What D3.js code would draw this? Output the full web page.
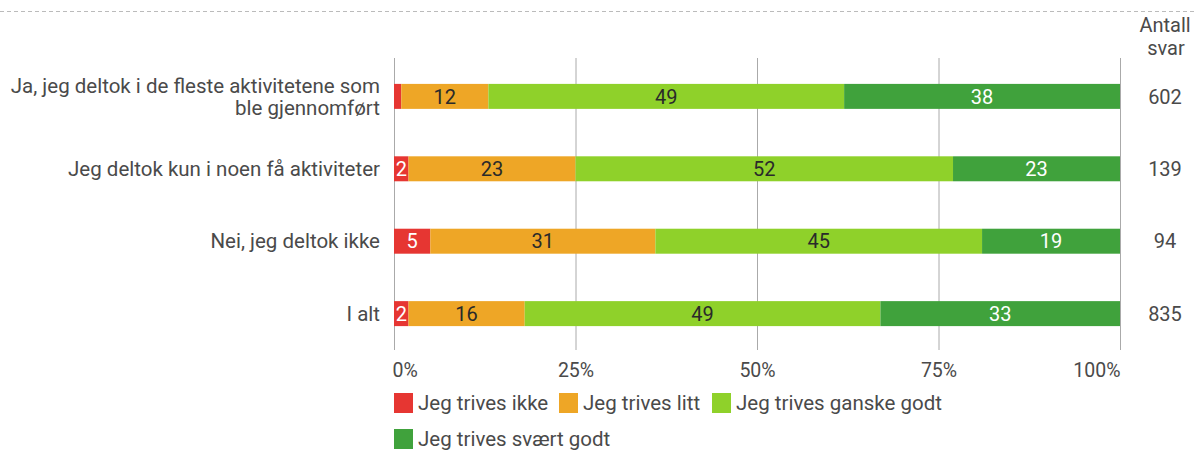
<!DOCTYPE html>
<html><head><meta charset="utf-8">
<script src="https://cdn.jsdelivr.net/npm/d3@7/dist/d3.min.js"></script>
<style>body{margin:0;background:#fff;font-family:Roboto,"Noto Sans",sans-serif;}</style>
</head><body><svg id="c" width="1195" height="450"></svg>
<script>
const categories = [
  ["Ja, jeg deltok i de fleste aktivitetene som","ble gjennomført"],
  ["Jeg deltok kun i noen få aktiviteter"],
  ["Nei, jeg deltok ikke"],
  ["I alt"]
];
const seriesNames = ["Jeg trives ikke","Jeg trives litt","Jeg trives ganske godt","Jeg trives svært godt"];
const ikke = [1, 2, 5, 2];
const litt = [12, 23, 31, 16];
const ganske = [49, 52, 45, 49];
const svaert = [38, 23, 19, 33];
const counts = [602, 139, 94, 835];
const tickValues = [0, 25, 50, 75, 100];
const colors = ["#e63632","#eea626","#8fd12a","#40a23c"];
const textColors = ["#fff","#2a2a2a","#2a2a2a","#fff"];

const svg = d3.select("#c");
const x = d3.scaleLinear().domain([0,100]).range([394,1120]);
const y = d3.scaleBand().domain(d3.range(categories.length)).range([60,350]).paddingInner(0.655).paddingOuter(0.33);

svg.append("line").attr("x1",0).attr("x2",1195).attr("y1",11.5).attr("y2",11.5)
  .attr("stroke","#bbb").attr("stroke-dasharray","4,3");

// grid
svg.append("g").selectAll("line").data(tickValues).join("line")
  .attr("x1",d=>x(d)+0.5).attr("x2",d=>x(d)+0.5).attr("y1",58).attr("y2",350)
  .attr("stroke","#aaa").attr("stroke-width",1);

// axis labels
const ax = svg.append("g").attr("transform","translate(0,350)")
  .call(d3.axisBottom(x).tickValues(tickValues).tickFormat(d=>d+"%").tickSize(0).tickPadding(13));
ax.select(".domain").remove();
ax.selectAll("text").attr("font-size",19.5).attr("fill","#4a4a4a").attr("font-family","Roboto")
  .attr("text-anchor",(d,i)=>i===0?"start":(i===tickValues.length-1?"end":"middle"))
  .attr("dx",(d,i)=>i===0?-2:(i===tickValues.length-1?0:0));

const series = [ikke, litt, ganske, svaert];
const stacked = categories.map((c,i)=>{
  let acc=0;
  return series.map((s,k)=>{const o={k,i,v:s[i],x0:acc,x1:acc+s[i]}; acc+=s[i]; return o;});
});
const bh = y.bandwidth();
const rows = svg.append("g").selectAll("g").data(stacked).join("g");
rows.selectAll("rect").data(d=>d).join("rect")
  .attr("x",d=>x(d.x0)).attr("width",d=>x(d.x1)-x(d.x0))
  .attr("y",d=>y(d.i)).attr("height",bh).attr("fill",d=>colors[d.k]);
rows.selectAll("text").data(d=>d.filter(e=>e.v>=2)).join("text")
  .attr("x",d=>(x(d.x0)+x(d.x1))/2).attr("y",d=>y(d.i)+bh/2)
  .attr("dy","0.36em").attr("text-anchor","middle").attr("font-size",20)
  .attr("fill",d=>textColors[d.k]).text(d=>d.v);

// category labels
const cl = svg.append("g").selectAll("text").data(categories).join("text")
  .attr("text-anchor","end").attr("font-size",20.5).attr("fill","#4a4a4a");
cl.each(function(lines,i){
  const t=d3.select(this);
  const cy=y(i)+bh/2;
  const start = cy - (lines.length-1)*22/2;
  lines.forEach((l,j)=>t.append("tspan").attr("x",380).attr("y",start+j*22).attr("dy","0.35em").text(l));
});

// counts
svg.append("g").selectAll("text").data(counts).join("text")
  .attr("x",1165).attr("y",(d,i)=>y(i)+bh/2).attr("dy","0.36em").attr("text-anchor","middle")
  .attr("font-size",20).attr("fill","#4a4a4a").text(d=>d);
svg.append("text").attr("text-anchor","middle").attr("font-size",20).attr("fill","#4a4a4a")
  .selectAll("tspan").data(["Antall","svar"]).join("tspan")
  .attr("x",(d,i)=>i===0?1165:1166).attr("y",(d,i)=>32+i*23).text(d=>d);

// legend
const legendPos = [[394,403],[559,403],[712,403],[394,439]];
const lg = svg.append("g").selectAll("g").data(seriesNames).join("g")
  .attr("transform",(d,i)=>`translate(${legendPos[i][0]},${legendPos[i][1]})`);
lg.append("rect").attr("x",0).attr("y",-10).attr("width",19).attr("height",20).attr("fill",(d,i)=>colors[i]);
lg.append("text").attr("x",24).attr("dy","0.35em").attr("font-size",20.5).attr("fill","#4a4a4a").text(d=>d);
</script></body></html>
